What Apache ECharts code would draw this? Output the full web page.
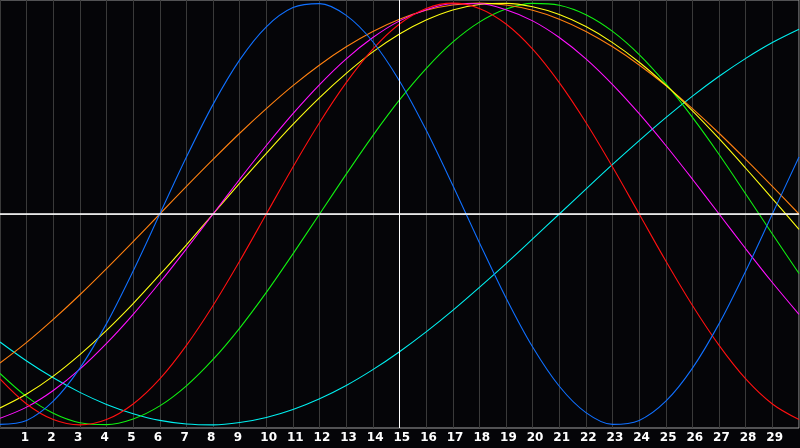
<!DOCTYPE html>
<html>
<head>
<meta charset="utf-8">
<script src="https://cdn.jsdelivr.net/npm/echarts@6/dist/echarts.min.js"></script>
<style>
html,body{margin:0;padding:0;background:#050508;}
#c{width:800px;height:448px;}
</style>
</head>
<body>
<div id="c"></div>
<script>
var days = [0,1,2,3,4,5,6,7,8,9,10,11,12,13,14,15,16,17,18,19,20,21,22,23,24,25,26,27,28,29,30];
var dayLabels = ['1','2','3','4','5','6','7','8','9','10','11','12','13','14','15','16','17','18','19','20','21','22','23','24','25','26','27','28','29'];
var cyanVals = [-0.607,-0.697,-0.777,-0.846,-0.903,-0.947,-0.979,-0.996,-1.000,-0.989,-0.965,-0.927,-0.876,-0.813,-0.738,-0.653,-0.559,-0.457,-0.348,-0.235,-0.118,0,0.118,0.235,0.348,0.457,0.559,0.653,0.738,0.813,0.876];
var greenVals = [-0.756,-0.866,-0.945,-0.990,-0.999,-0.972,-0.910,-0.815,-0.690,-0.541,-0.372,-0.189,0,0.189,0.372,0.541,0.690,0.815,0.910,0.972,0.999,0.990,0.945,0.866,0.756,0.618,0.458,0.282,0.095,-0.095,-0.282];
var orangeVals = [-0.707,-0.609,-0.500,-0.383,-0.259,-0.131,0,0.131,0.259,0.383,0.500,0.609,0.707,0.793,0.866,0.924,0.966,0.991,1.000,0.991,0.966,0.924,0.866,0.793,0.707,0.609,0.500,0.383,0.259,0.131,0];
var yellowVals = [-0.920,-0.854,-0.769,-0.667,-0.552,-0.425,-0.288,-0.146,0,0.146,0.288,0.425,0.552,0.667,0.769,0.854,0.920,0.968,0.994,0.999,0.983,0.946,0.889,0.813,0.720,0.611,0.489,0.357,0.217,0.073,-0.073];
var magentaVals = [-0.969,-0.916,-0.837,-0.736,-0.614,-0.476,-0.325,-0.165,0,0.165,0.325,0.476,0.614,0.736,0.837,0.916,0.969,0.997,0.997,0.969,0.916,0.837,0.736,0.614,0.476,0.325,0.165,0,-0.165,-0.325,-0.476];
var redVals = [-0.782,-0.901,-0.975,-1.000,-0.975,-0.901,-0.782,-0.623,-0.434,-0.223,0,0.223,0.434,0.623,0.782,0.901,0.975,1.000,0.975,0.901,0.782,0.623,0.434,0.223,0,-0.223,-0.434,-0.623,-0.782,-0.901,-0.975];
var blueVals = [-0.998,-0.979,-0.888,-0.731,-0.520,-0.270,0,0.270,0.520,0.731,0.888,0.979,0.998,0.942,0.817,0.631,0.398,0.136,-0.136,-0.398,-0.631,-0.817,-0.942,-0.998,-0.979,-0.888,-0.731,-0.520,-0.270,0,0.270];
var markDay = 15;

function pairs(vals){ return days.map(function(d,i){ return [d, vals[i]]; }); }
function line(name, color, vals){
  return {
    name: name, type: 'line', data: pairs(vals), showSymbol: false, symbol: 'none',
    smooth: 0.33, silent: true, animation: false,
    lineStyle: { color: color, width: 1.1 }
  };
}

var series = [
  line('cyan', '#00f0f0', cyanVals),
  line('green', '#10f010', greenVals),
  line('orange', '#ff8010', orangeVals),
  line('yellow', '#ffff10', yellowVals),
  line('magenta', '#ff10ff', magentaVals),
  line('red', '#ff1010', redVals),
  line('blue', '#1070ff', blueVals)
];
series[0].markLine = {
  silent: true, symbol: 'none', animation: false, label: { show: false },
  data: [
    { yAxis: 0, lineStyle: { color: '#ffffff', width: 1.5, type: 'solid' } },
    { xAxis: markDay, lineStyle: { color: '#ffffff', width: 1, type: 'solid' } }
  ]
};

var chart = echarts.init(document.getElementById('c'), null, { renderer: 'canvas' });
chart.setOption({
  backgroundColor: '#050508',
  animation: false,
  grid: { left: 0, right: 1, top: 0, bottom: 20, show: true, borderColor: '#a0a0a0', borderWidth: 1, backgroundColor: '#050508' },
  xAxis: {
    type: 'value', min: 0, max: 30, interval: 1,
    axisLine: { show: true, lineStyle: { color: '#a0a0a0', width: 1 } },
    axisTick: { show: false },
    splitLine: { show: true, lineStyle: { color: '#3a3a3a', width: 1 } },
    axisLabel: {
      color: '#ffffff', fontSize: 12, fontWeight: 'bold', fontFamily: 'DejaVu Sans',
      margin: 4, align: 'left', padding: [0, 0, 0, -6],
      showMinLabel: false, showMaxLabel: false,
      formatter: function(v){ var i = Math.round(v) - 1; return (i >= 0 && i < dayLabels.length) ? dayLabels[i] : ''; }
    }
  },
  yAxis: {
    type: 'value', min: -1.015, max: 1.015, show: false,
    splitLine: { show: false }
  },
  series: series
});
</script>
</body>
</html>
